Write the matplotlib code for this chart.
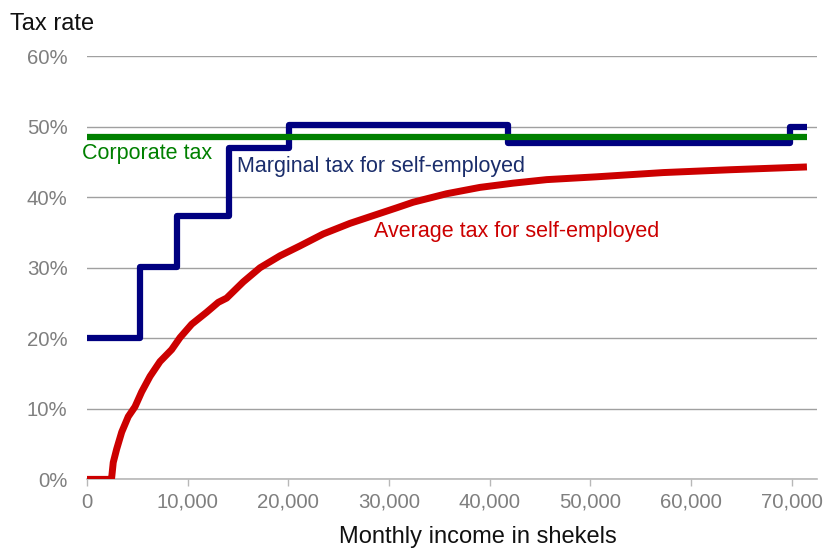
import matplotlib.pyplot as plt
from matplotlib.ticker import FuncFormatter, MultipleLocator

plt.rcParams['font.family'] = ['Liberation Sans', 'DejaVu Sans']

# marginal tax for self-employed (step edges in shekels, rate in %)
marginal_x = [0, 5300, 8950, 14100, 20050, 41800, 69800, 71500]
marginal_y = [20.0, 30.1, 37.3, 47.0, 50.2, 47.7, 49.9, 49.9]

# average tax for self-employed
average_x = [0, 2350, 2450, 2610, 2950, 3450, 4100, 4770, 5430, 6260,
             7250, 8410, 9240, 10400, 11890, 13040, 13870, 15520, 17180,
             19170, 21150, 23470, 26120, 28430, 30750, 32400, 35720, 39030,
             42330, 45650, 50620, 57230, 63850, 71500]
average_y = [0.0, 0.0, 0.2, 2.4, 4.3, 6.7, 8.9, 10.3, 12.4, 14.6,
             16.7, 18.4, 20.1, 22.0, 23.7, 25.1, 25.7, 28.0, 30.0,
             31.7, 33.1, 34.8, 36.3, 37.4, 38.5, 39.3, 40.5, 41.4,
             42.0, 42.5, 42.9, 43.5, 43.9, 44.3]

# corporate tax (flat)
corporate_x = [0, 71500]
corporate_y = [48.5, 48.5]

fig = plt.figure(figsize=(8.33, 5.51), dpi=100)
ax = fig.add_axes([0.1044, 0.130, 0.8764, 0.768])

ax.plot(average_x, average_y, color='#cc0000', lw=5, solid_joinstyle='round',
        solid_capstyle='butt', zorder=3)
ax.plot(marginal_x, marginal_y, color='#000080', lw=4.5, drawstyle='steps-post',
        solid_joinstyle='round', solid_capstyle='butt', zorder=4)
ax.plot(corporate_x, corporate_y, color='#008000', lw=4.5,
        solid_capstyle='butt', zorder=5)

ax.set_xlim(0, 72500)
ax.set_ylim(0, 60)
ax.xaxis.set_major_locator(MultipleLocator(10000))
ax.yaxis.set_major_locator(MultipleLocator(10))
ax.xaxis.set_major_formatter(FuncFormatter(lambda v, p: f'{int(v):,}'))
ax.yaxis.set_major_formatter(FuncFormatter(lambda v, p: f'{int(v)}%'))

for s in ['top', 'right', 'left']:
    ax.spines[s].set_visible(False)
ax.spines['bottom'].set_color('#b8b8b8')
ax.spines['bottom'].set_linewidth(1.2)
ax.grid(axis='y', color='#a0a0a0', lw=1.0)
ax.set_axisbelow(True)
ax.tick_params(axis='x', colors='#b8b8b8', labelcolor='#7f7f7f', length=5,
               width=1, pad=4.5, labelsize=14.7)
ax.tick_params(axis='y', length=0, pad=14, labelcolor='#7f7f7f', labelsize=14.7)

ax.set_xlabel('Monthly income in shekels', fontsize=17, color='#111111')
ax.xaxis.set_label_coords(0.536, -0.137)
ax.xaxis.label.set_va('center')
fig.text(0.012, 0.957, 'Tax rate', fontsize=17, color='#111111', va='center')

ax.text(-500, 46.2, 'Corporate tax', color='#008000', fontsize=15.5, va='center')
ax.text(14900, 44.4, 'Marginal tax for self-employed', color='#1a2d6b',
        fontsize=15.5, va='center')
ax.text(28500, 35.1, 'Average tax for self-employed', color='#cc0000',
        fontsize=15.5, va='center')

fig.savefig('out.png', dpi=100)
